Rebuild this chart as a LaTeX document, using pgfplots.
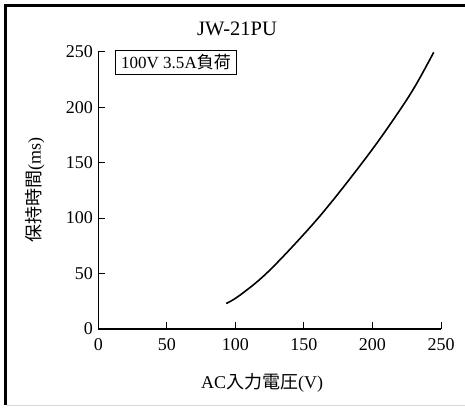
\documentclass[border=0pt]{standalone}
\usepackage{fontspec}
\setmainfont{Liberation Serif}
\newfontfamily\cjk{Noto Sans CJK JP}
\usepackage{pgfplots}
\pgfplotsset{compat=1.18}
\begin{document}
\begin{tikzpicture}
\useasboundingbox (0pt,0pt) rectangle (465pt,-407pt);
\fill[black] (4pt,-4pt) rectangle (465pt,-7pt);
\fill[black] (4pt,-4pt) rectangle (7pt,-405pt);
\draw[black!15, line width=1.2pt] (7pt,-405.5pt) -- (465pt,-405.5pt);
\begin{axis}[
  at={(98.3pt,-329pt)}, anchor=south west,
  width=342.7pt, height=277.3pt, scale only axis,
  xmin=0, xmax=250, ymin=0, ymax=250,
  separate axis lines,
  axis x line=bottom, axis y line=left,
  axis line style={-, line width=1.3pt},
  xtick={0,50,...,250}, ytick={0,50,...,250},
  tick align=inside, major tick length=7pt,
  tick style={line width=1pt, black},
  tick label style={font=\fontsize{18}{20}\selectfont},
  xticklabel style={yshift=-6pt},
  yticklabel style={xshift=-2pt},
  /pgf/number format/assume math mode=true,
  clip=false,
]
\addplot[smooth, tension=0.6, line width=1.6pt, black] coordinates {
(93.3,23) (103,30.2) (122.7,50.2) (150,85.5) (171.3,116.3)
(199.3,161) (220,197.4) (232.1,221) (244.7,249.5)
};
\end{axis}
\node[font=\fontsize{20.5}{22}\selectfont] at (237pt,-29pt) {JW-21PU};
\node[rotate=90, font=\fontsize{18}{20}\selectfont] at (35pt,-190pt) {{\cjk 保持時間}(ms)};
\node[font=\fontsize{18}{20}\selectfont] at (262pt,-383pt) {AC{\cjk 入力電圧}(V)};
\draw[line width=0.8pt] (115.7pt,-50.7pt) rectangle (236.3pt,-74pt);
\node[font=\fontsize{17}{20}\selectfont] at (176pt,-62.5pt) {100V 3.5A{\cjk 負荷}};
\end{tikzpicture}
\end{document}
